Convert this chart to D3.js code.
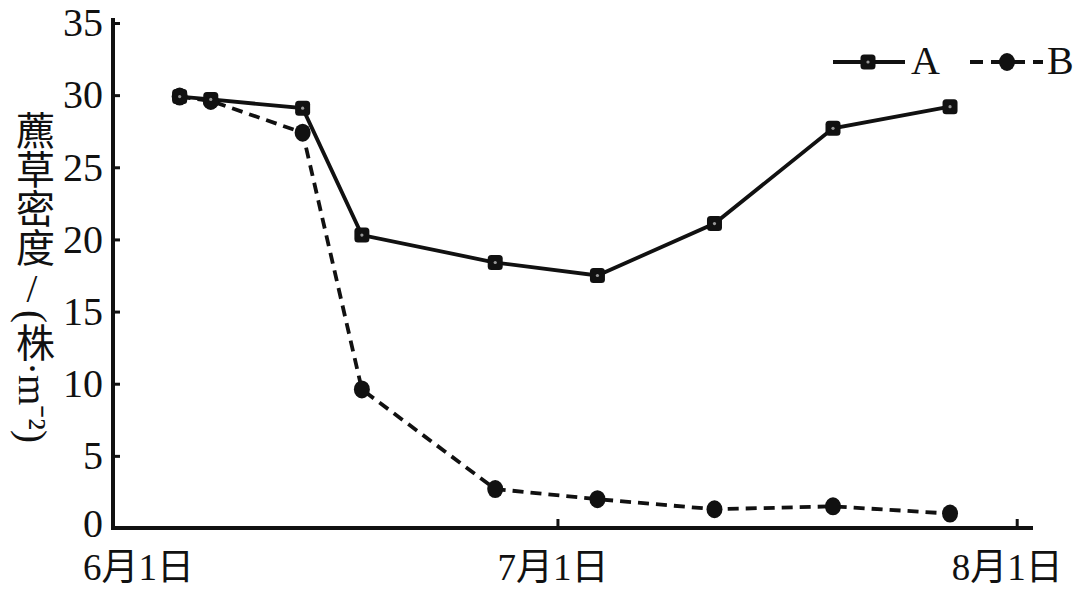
<!DOCTYPE html>
<html>
<head>
<meta charset="utf-8">
<script src="https://cdn.jsdelivr.net/npm/d3@7"></script>
<style>
  html, body { margin: 0; padding: 0; background: #fff; }
  svg { display: block; }
  text { fill: #111; }
</style>
</head>
<body>
<svg id="chart" width="1080" height="592"></svg>
<script>
// days after 6月1日 for each survey
const days = [4.5, 6.6, 12.8, 16.8, 25.8, 32.7, 40.6, 48.6, 56.5];
const seriesA = [29.9, 29.7, 29.1, 20.3, 18.4, 17.5, 21.1, 27.7, 29.2];
const seriesB = [29.9, 29.6, 27.4, 9.6, 2.7, 2.0, 1.3, 1.5, 1.0];
const xTickDays = [0, 30, 61];
const xTickLabels = ["6月1日", "7月1日", "8月1日"];
const yTicks = [0, 5, 10, 15, 20, 25, 30, 35];
const seriesNames = ["A", "B"];
const yLabelParts = ["藨草密度", "/", "(株·m⁻²)"];

const svg = d3.select("#chart");
const serif = "'Liberation Serif', 'Noto Sans CJK SC', serif";

const x = d3.scaleLinear().domain([0, 62.1]).range([113, 1033]);
const y = d3.scaleLinear().domain([0, 35]).range([528, 23]);

// y axis, ticks pointing inward
const yAxis = svg.append("g")
  .attr("transform", `translate(${x(0)},0)`)
  .call(d3.axisLeft(y).tickValues(yTicks).tickSizeInner(-7).tickSizeOuter(0).tickPadding(10));
yAxis.select(".domain").attr("stroke", "#111").attr("stroke-width", 4)
  .attr("d", `M0,${y(35) - 5}V${y(0) + 2}`);
yAxis.selectAll(".tick line").attr("stroke", "#111").attr("stroke-width", 3)
  .attr("display", (d) => (d === 0 ? "none" : null));
yAxis.selectAll(".tick text")
  .attr("font-family", serif).attr("font-size", 40).attr("fill", "#111")
  .attr("dy", (d) => (d === 0 ? "0.2em" : "0.32em"));

// x axis, ticks pointing up
const xAxis = svg.append("g")
  .attr("transform", `translate(0,${y(0)})`)
  .call(d3.axisBottom(x).tickValues(xTickDays)
    .tickFormat((d, i) => xTickLabels[i])
    .tickSizeInner(-9).tickSizeOuter(0).tickPadding(26));
xAxis.select(".domain").attr("stroke", "#111").attr("stroke-width", 4)
  .attr("d", `M${x(0) - 2},0H${x.range()[1]}`);
xAxis.selectAll(".tick line").attr("stroke", "#111").attr("stroke-width", 3)
  .attr("display", (d) => (d === 0 ? "none" : null));
xAxis.selectAll(".tick text")
  .attr("font-family", serif).attr("font-size", 37).attr("fill", "#111")
  .attr("dx", (d, i) => [25, -5, -10][i]);

// y label, vertical writing; the slash stays upright
const yLabel = svg.append("text")
  .attr("x", 32)
  .attr("y", 111)
  .attr("font-family", serif)
  .attr("font-size", 39)
  .style("writing-mode", "vertical-rl")
  .style("text-orientation", "mixed");
yLabel.selectAll("tspan")
  .data(yLabelParts)
  .join("tspan")
  .attr("glyph-orientation-vertical", (d, i) => (i === 1 ? "0" : null))
  .style("text-orientation", (d, i) => (i === 1 ? "upright" : null))
  .text((d) => d);

const pointsA = days.map((d, i) => [d, seriesA[i]]);
const pointsB = days.map((d, i) => [d, seriesB[i]]);
const line = d3.line().x((d) => x(d[0])).y((d) => y(d[1]));

svg.append("path").datum(pointsB)
  .attr("d", line).attr("fill", "none")
  .attr("stroke", "#111").attr("stroke-width", 3.8)
  .attr("stroke-dasharray", "11,7");

svg.append("path").datum(pointsA)
  .attr("d", line).attr("fill", "none")
  .attr("stroke", "#111").attr("stroke-width", 3.8);

const drawSquare = (g, cx, cy) => {
  g.append("rect").attr("x", cx - 7.5).attr("y", cy - 7.5)
    .attr("width", 15).attr("height", 15).attr("rx", 3.5).attr("fill", "#111");
  g.append("circle").attr("cx", cx).attr("cy", cy).attr("r", 1.6).attr("fill", "#999");
};
const drawDot = (g, cx, cy) => {
  g.append("ellipse").attr("cx", cx).attr("cy", cy)
    .attr("rx", 8).attr("ry", 9).attr("fill", "#111");
};

const markB = svg.append("g");
pointsB.forEach((p) => drawDot(markB, x(p[0]), y(p[1])));
const markA = svg.append("g");
pointsA.forEach((p) => drawSquare(markA, x(p[0]), y(p[1])));

// legend
const legend = svg.append("g").attr("transform", "translate(833,62)");
legend.append("line").attr("x1", 0).attr("x2", 72).attr("y1", 0).attr("y2", 0)
  .attr("stroke", "#111").attr("stroke-width", 3.8);
drawSquare(legend, 35, 0);
legend.append("text").attr("x", 78).attr("y", 12)
  .attr("font-family", serif).attr("font-size", 40).text(seriesNames[0]);
legend.append("line").attr("x1", 137).attr("x2", 210).attr("y1", 0).attr("y2", 0)
  .attr("stroke", "#111").attr("stroke-width", 3.8).attr("stroke-dasharray", "13,8");
drawDot(legend, 174, 0);
legend.append("text").attr("x", 214).attr("y", 12)
  .attr("font-family", serif).attr("font-size", 40).text(seriesNames[1]);
</script>
</body>
</html>
